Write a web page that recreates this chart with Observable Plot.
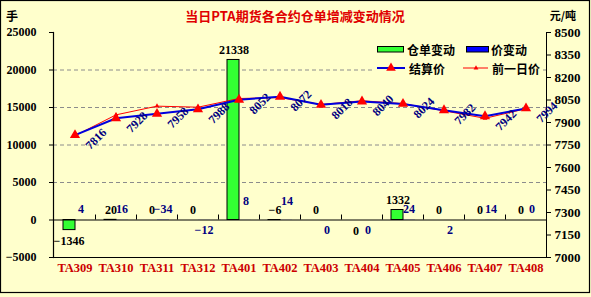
<!DOCTYPE html>
<html><head><meta charset="utf-8">
<script src="https://cdn.jsdelivr.net/npm/d3@7"></script>
<script src="https://cdn.jsdelivr.net/npm/@observablehq/plot@0.6"></script>
<style>
body{margin:0;background:#fff;}
#chart svg{display:block;}
</style></head><body><div id="chart"></div>
<script>
// ---- data ----
const categories = ["TA309","TA310","TA311","TA312","TA401","TA402","TA403","TA404","TA405","TA406","TA407","TA408"];
const receiptChange = [-1346, 20, 0, 0, 21338, -6, 0, 0, 1332, 0, 0, 0];   // 仓单变动 (手)
const priceChange   = [4, 16, -34, -12, 8, 14, 0, 0, 24, 2, 14, 0];          // 价变动
const settlePrice   = [7816, 7928, 7958, 7988, 8052, 8072, 8018, 8040, 8024, 7982, 7942, 7994]; // 结算价
const prevPrice     = [7812, 7951, 8009, 8002, 8060, 8066, 8020, 8045, 8026, 7978, 7928, 7992]; // 前一日价
const leftTicks  = [-5000, 0, 5000, 10000, 15000, 20000, 25000];
const rightTicks = [7000, 7150, 7300, 7450, 7600, 7750, 7900, 8050, 8200, 8350, 8500];
const titleText = "当日PTA期货各合约仓单增减变动情况";

// label placement (which value labels sit under the zero line / are lifted)
const receiptBelow = new Set(["TA309", "TA404"]);
const changeBelow  = new Set(["TA312", "TA403", "TA404", "TA406"]);
const changeHigh   = new Set(["TA401", "TA402"]);

const toLeft = d3.scaleLinear([7000, 8500], [-5000, 25000]);
const rows = categories.map((c, i) => ({cat: c, receipt: receiptChange[i], change: priceChange[i], settle: settlePrice[i], prev: prevPrice[i]}));
const fmt = d3.format("d");

const serif = "'Liberation Serif','Times New Roman',serif";
const cjk = "'Noto Sans CJK SC','Noto Sans',sans-serif";
const BG = "#FFFFCC";
const lbl = {fontSize: 12, fontWeight: "bold"};

const plot = Plot.plot({
  width: 591, height: 297,
  marginLeft: 53, marginRight: 45, marginTop: 32, marginBottom: 40,
  style: {background: BG, fontFamily: serif, fontWeight: "bold", overflow: "visible"},
  x: {domain: categories, padding: 0, axis: null},
  y: {domain: [-5000, 25000], axis: null},
  marks: [
    Plot.gridY({ticks: [5000, 10000, 15000, 20000], stroke: "#8c8c8c", strokeOpacity: 1, strokeDasharray: "4,3"}),
    Plot.barY(rows, {x: "cat", y: "receipt", fill: "#33FF33", stroke: "#000", strokeWidth: 1, insetLeft: 9, insetRight: 20}),
    Plot.barY(rows, {x: "cat", y: "change", fill: "#0000FF", insetLeft: 21, insetRight: 8}),
    Plot.ruleY([0], {stroke: "#000", strokeWidth: 1}),
    Plot.ruleY([-5000], {stroke: "#000", strokeWidth: 1.2}),
    Plot.frame({anchor: "left", stroke: "#000", strokeWidth: 1.2}),
    Plot.frame({anchor: "right", stroke: "#000", strokeWidth: 1}),
    // 前一日价
    Plot.line(rows, {x: "cat", y: d => toLeft(d.prev), stroke: "#FF0000", strokeWidth: 1}),
    Plot.dot(rows, {x: "cat", y: d => toLeft(d.prev), symbol: "triangle", r: 1.8, fill: "#FF0000"}),
    // 结算价
    Plot.line(rows, {x: "cat", y: d => toLeft(d.settle), stroke: "#0000DD", strokeWidth: 2}),
    Plot.dot(rows, {x: "cat", y: d => toLeft(d.settle), symbol: "triangle", r: 3.8, fill: "#FF0000"}),
    Plot.text(rows, {x: "cat", y: d => toLeft(d.settle), text: d => String(d.settle), rotate: -45, dx: 21, dy: 4, fill: "#000080", ...lbl}),
    // 仓单变动 labels
    Plot.text(rows.filter(d => !receiptBelow.has(d.cat)), {x: "cat", y: "receipt", text: d => fmt(d.receipt), dx: -5, dy: -10, fill: "#000", ...lbl}),
    Plot.text(rows.filter(d => receiptBelow.has(d.cat)), {x: "cat", y: "receipt", text: d => fmt(d.receipt), dx: -6, dy: 11, fill: "#000", ...lbl}),
    // 价变动 labels
    Plot.text(rows.filter(d => !changeBelow.has(d.cat) && !changeHigh.has(d.cat)), {x: "cat", y: "change", text: d => fmt(d.change), dx: 6, dy: -11, fill: "#000080", ...lbl}),
    Plot.text(rows.filter(d => changeHigh.has(d.cat)), {x: "cat", y: "change", text: d => fmt(d.change), dx: 7, dy: -19, fill: "#000080", ...lbl}),
    Plot.text(rows.filter(d => changeBelow.has(d.cat)), {x: "cat", y: "change", text: d => fmt(d.change), dx: 6, dy: 10, fill: "#000080", ...lbl}),
    // axes
    Plot.axisY({anchor: "left", ticks: leftTicks, tickSize: 4, tickPadding: 13, tickFormat: d => fmt(d), fontSize: 12, fontWeight: "bold", label: null}),
    Plot.axisY({anchor: "right", ticks: rightTicks.map(toLeft), tickSize: 4, tickPadding: 4, tickFormat: v => String(Math.round(toLeft.invert(v))), fontSize: 13, fontWeight: "bold", label: null}),
    Plot.axisX({anchor: "bottom", tickSize: 0, tickPadding: 6, fontSize: 12.5, fontWeight: "bold", fill: "#CC0000", label: null})
  ]
});

const svg = d3.select(plot);
const xs = plot.scale("x"), ys = plot.scale("y");
const y0 = ys.apply(0);
// category boundary ticks on the zero line
const g = svg.append("g").attr("stroke", "#000");
categories.slice(1).forEach(c => {
  const x = Math.round(xs.apply(c)) + 0.5;
  g.append("line").attr("x1", x).attr("x2", x).attr("y1", y0 - 5).attr("y2", y0);
});
const T = (sel) => sel.attr("text-anchor", "start").attr("dominant-baseline", "central");
// title and axis units
svg.append("text").attr("x", 295).attr("y", 15).attr("text-anchor", "middle").attr("dominant-baseline", "central")
  .attr("font-family", cjk).attr("font-size", 13).attr("font-weight", "bold").attr("fill", "#E00000").text(titleText);
svg.append("text").attr("x", 12).attr("y", 15).attr("text-anchor", "middle").attr("dominant-baseline", "central")
  .attr("font-family", cjk).attr("font-size", 12).attr("font-weight", "bold").attr("fill", "#000").text("手");
svg.append("text").attr("x", 563).attr("y", 15).attr("text-anchor", "middle").attr("dominant-baseline", "central")
  .attr("font-family", cjk).attr("font-size", 11).attr("font-weight", "bold").attr("fill", "#000").text("元/吨");
// legend
const lg = svg.append("g").attr("font-family", cjk).attr("font-size", 12).attr("font-weight", "bold").attr("fill", "#000");
lg.append("rect").attr("x", 373).attr("y", 40).attr("width", 170).attr("height", 36).attr("fill", BG);
lg.append("rect").attr("x", 377.5).attr("y", 46.5).attr("width", 26).attr("height", 5.5).attr("fill", "#33FF33").attr("stroke", "#000");
T(lg.append("text").attr("x", 407).attr("y", 49)).text("仓单变动");
lg.append("rect").attr("x", 466.5).attr("y", 46.5).attr("width", 22).attr("height", 5.5).attr("fill", "#0000FF").attr("stroke", "#000");
T(lg.append("text").attr("x", 491).attr("y", 49)).text("价变动");
lg.append("line").attr("x1", 377).attr("x2", 405).attr("y1", 68).attr("y2", 68).attr("stroke", "#0000DD").attr("stroke-width", 2);
lg.append("path").attr("d", d3.symbol(d3.symbolTriangle, 40)()).attr("transform", "translate(391,68)").attr("fill", "#FF0000");
T(lg.append("text").attr("x", 409).attr("y", 68)).text("结算价");
lg.append("line").attr("x1", 463).attr("x2", 488).attr("y1", 68).attr("y2", 68).attr("stroke", "#FF0000").attr("stroke-width", 1);
lg.append("path").attr("d", d3.symbol(d3.symbolTriangle, 10)()).attr("transform", "translate(476,68)").attr("fill", "#FF0000");
T(lg.append("text").attr("x", 492).attr("y", 68)).text("前一日价");
// outer border
svg.append("rect").attr("x", 0.5).attr("y", 0.5).attr("width", 589).attr("height", 292).attr("fill", "none").attr("stroke", "#000").attr("stroke-width", 1.2);

document.getElementById("chart").appendChild(plot);
</script></body></html>
